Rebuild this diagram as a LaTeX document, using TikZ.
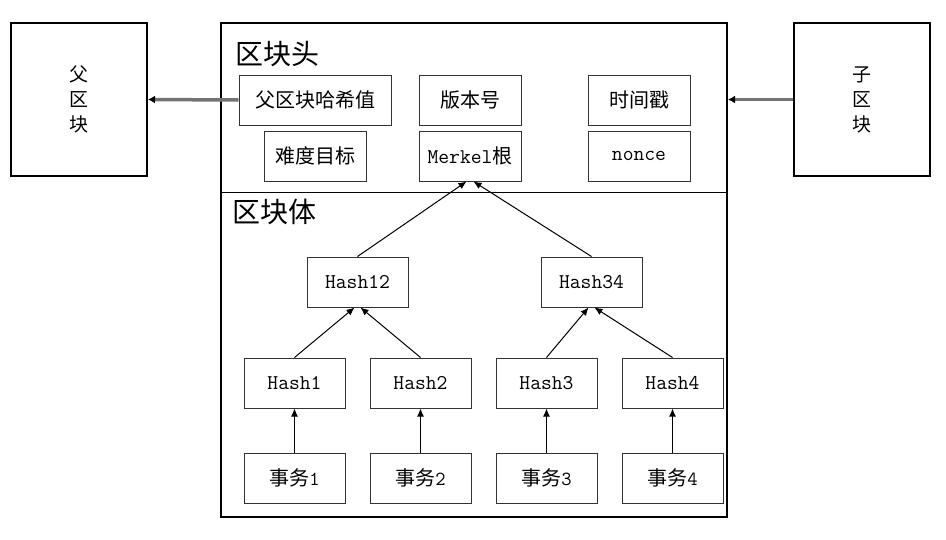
\documentclass[tikz,border=0pt]{standalone}
\usepackage{fontspec}
\newfontfamily\cjk{Noto Sans CJK SC}
\usetikzlibrary{arrows.meta,positioning}
\tikzset{
chain/.style={>={Latex[length=8pt,width=7pt]},x=1pt,y=-1pt,
line width=1pt},
block/.style={rectangle,draw,line width=2pt,minimum width=136pt,
minimum height=153pt,align=center,font=\cjk\fontsize{19}{25}\selectfont},
field/.style={rectangle,draw=black!80,line width=1pt,minimum width=102pt,
minimum height=50pt,inner sep=0pt,font=\cjk\fontsize{20}{24}\selectfont},
hashbox/.style={field,minimum width=101pt,font=\ttfamily\fontsize{21}{24}\selectfont},
title/.style={anchor=west,inner sep=0pt,font=\cjk\fontsize{28}{32}\selectfont},
pointer/.style={-{Latex[black,length=7pt,width=8pt]},draw=black!55,line width=3.5pt},
}

\begin{document}
\begin{tikzpicture}[chain]
                    \useasboundingbox (0,0) rectangle (946,539);
                    \node[block] (parent) at (79,99.5) {父\\区\\块};
                    \node[block] (child) at (861.5,99.5) {子\\区\\块};
                    \node[draw,line width=2pt,minimum width=506pt,minimum height=494pt] (blk) at (474,270) {};
                    \coordinate (split) at (0,192);
                    \draw (blk.west |- split) -- (blk.east |- split);
                    \node[title] (head) at (235,54.5) {区块头};
                    \node[title] (bodytitle) at (232,212) {区块体};

                    % block header
                    \node[field,minimum width=152pt] (prev) at (315,100) {父区块哈希值};
                    \node[field,below=5pt of prev] (target) {难度目标};
                    \node[field] (version) at (470,100) {版本号};
                    \node[field,below=5pt of version] (merkle) {{\ttfamily\fontsize{21}{24}\selectfont Merkel}根};
                    \node[field] (time) at (639,100) {时间戳};
                    \node[field,below=5pt of time] (nonce) {\ttfamily\fontsize{21}{24}\selectfont nonce};

                    % block body
                    \node[hashbox] (h12) at (357.5,282) {Hash12};
                    \node[hashbox] (h34) at (591.5,282) {Hash34};
                    \node[hashbox] (h1) at (294.5,383) {Hash1};
                    \node[hashbox,right=24pt of h1] (h2) {Hash2};
                    \node[hashbox,right=24pt of h2] (h3) {Hash3};
                    \node[hashbox,right=24pt of h3] (h4) {Hash4};
                    \node[hashbox,below=44pt of h1] (tx1) {\cjk\fontsize{20}{24}\selectfont 事务{\ttfamily 1}};
                    \node[hashbox,below=44pt of h2] (tx2) {\cjk\fontsize{20}{24}\selectfont 事务{\ttfamily 2}};
                    \node[hashbox,below=44pt of h3] (tx3) {\cjk\fontsize{20}{24}\selectfont 事务{\ttfamily 3}};
                    \node[hashbox,below=44pt of h4] (tx4) {\cjk\fontsize{20}{24}\selectfont 事务{\ttfamily 4}};

                    \draw[->] (tx1) -- (h1);
                    \draw[->] (tx2) -- (h2);
                    \draw[->] (tx3) -- (h3);
                    \draw[->] (tx4) -- (h4);
                    \draw[->] (h1.north) -- ([xshift=-3pt]h12.south);
                    \draw[->] (h2.north) -- ([xshift=3pt]h12.south);
                    \draw[->] (h3.north) -- ([xshift=-3pt]h34.south);
                    \draw[->] (h4.north) -- ([xshift=3pt]h34.south);
                    \draw[->] (h12.north) -- ([xshift=-3.5pt]merkle.south);
                    \draw[->] (h34.north) -- ([xshift=3.5pt]merkle.south);

                    \draw[pointer] (prev.west) -- (parent.east);
                    \draw[pointer] (child.west) -- (child.west -| blk.east);
                \end{tikzpicture}
\end{document}
